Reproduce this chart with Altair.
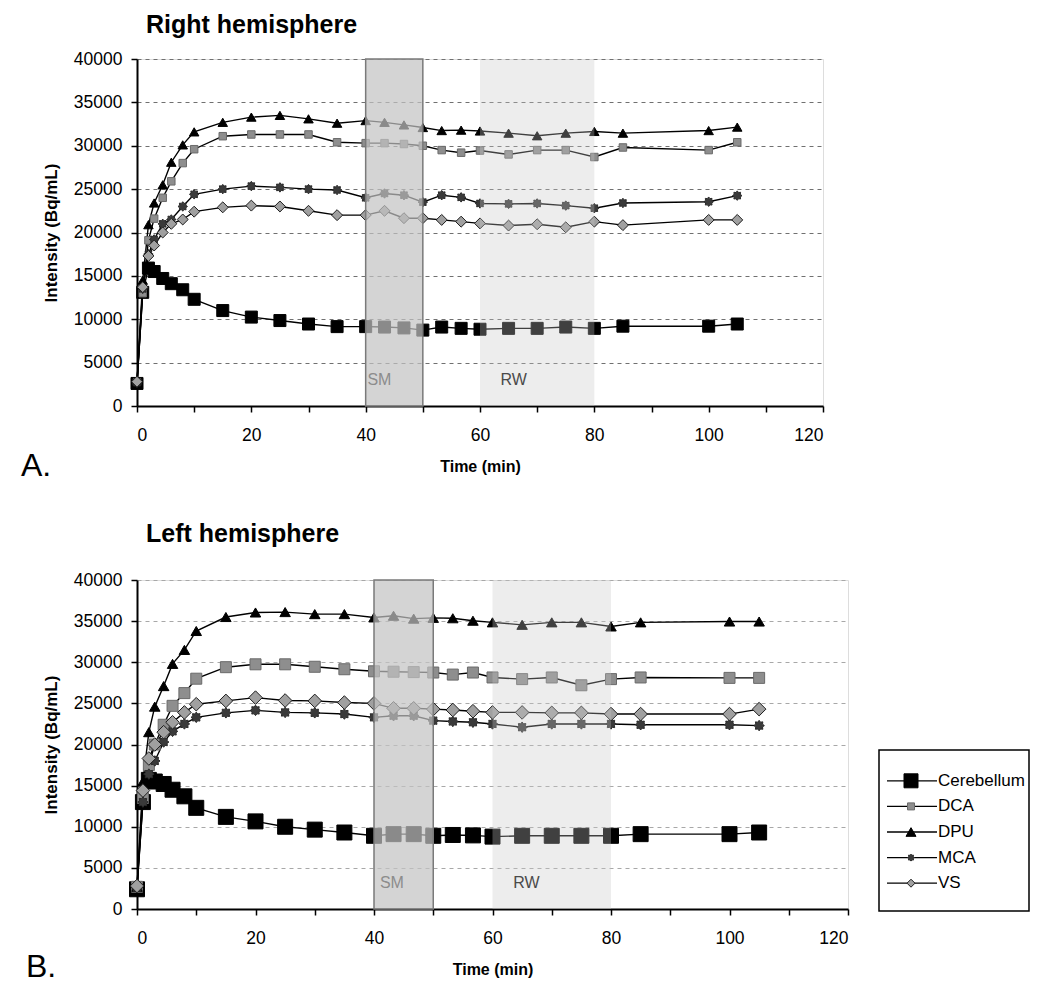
import math
import altair as alt
import pandas as pd

# ---------------- data ----------------
TIME = [0, 1, 2, 3, 4.5, 6, 8, 10, 15, 20, 25, 30, 35, 40, 43.3, 46.7, 50,
        53.3, 56.7, 60, 65, 70, 75, 80, 85, 100, 105]
SERIES = ["Cerebellum", "DCA", "DPU", "MCA", "VS"]
LEGEND_LABELS = ["Cerebellum", "DCA", "DPU", "MCA", "VS"]

# Right hemisphere (panel A)
R_CEREBELLUM = [2600, 13100, 15900, 15500, 14700, 14100, 13400, 12300, 11000, 10250, 9850, 9450, 9150, 9150,
                9100, 9000, 8750, 9100, 8950, 8850, 8950, 8950, 9100, 8950, 9200, 9200, 9450]
R_DCA = [2700, 13000, 19100, 21600, 24000, 25900, 28000, 29600, 31100, 31300, 31300, 31300, 30400, 30300,
         30300, 30200, 30000, 29500, 29200, 29450, 29000, 29500, 29500, 28700, 29800, 29500, 30400]
R_DPU = [2700, 14500, 20900, 23400, 25500, 28100, 30100, 31600, 32700, 33300, 33500, 33100, 32600, 32900,
         32700, 32400, 32100, 31750, 31800, 31700, 31450, 31150, 31450, 31650, 31450, 31750, 32150]
R_MCA = [2700, 13500, 17500, 19200, 21000, 21500, 23000, 24400, 25000, 25350, 25200, 25000, 24900, 24000,
         24500, 24300, 23500, 24300, 24050, 23350, 23300, 23350, 23100, 22800, 23400, 23550, 24250]
R_VS = [2800, 13700, 17300, 18500, 20000, 21000, 21500, 22400, 22900, 23100, 23000, 22500, 22000, 22000,
        22500, 21650, 21650, 21450, 21250, 21050, 20800, 20950, 20600, 21250, 20850, 21450, 21450]

# Left hemisphere (panel B)
L_CEREBELLUM = [2400, 13000, 15700, 15500, 15200, 14500, 13700, 12300, 11200, 10650, 10000, 9650, 9300, 8900,
                9100, 9100, 8900, 9000, 8950, 8800, 8900, 8900, 8900, 8900, 9100, 9100, 9300]
L_DCA = [2700, 13500, 17500, 20000, 22400, 24700, 26250, 28000, 29400, 29750, 29750, 29450, 29150, 28900,
         28850, 28800, 28750, 28500, 28750, 28150, 27950, 28150, 27200, 27950, 28150, 28100, 28100]
L_DPU = [2700, 15500, 21500, 24600, 27100, 29800, 31500, 33800, 35500, 36050, 36100, 35850, 35850, 35450,
         35650, 35300, 35400, 35350, 35050, 34850, 34550, 34850, 34850, 34350, 34850, 34950, 34950]
L_MCA = [2600, 13000, 16400, 18000, 20300, 21600, 22500, 23300, 23850, 24150, 23900, 23850, 23700, 23300,
         23500, 23500, 22900, 22800, 22700, 22500, 22100, 22500, 22500, 22500, 22400, 22400, 22300]
L_VS = [2800, 14400, 18300, 20000, 21500, 22700, 23900, 24900, 25300, 25700, 25350, 25300, 25100, 25000,
        24400, 24400, 24300, 24200, 24050, 23900, 23900, 23850, 23850, 23700, 23700, 23700, 24300]

# shaded periods
REGION_NAMES = ["SM", "RW"]
REGION_START = [40, 60]
REGION_END = [50, 80]
R_LABEL_X = [40.3, 63.6]
R_LABEL_Y = [3000, 3000]
L_LABEL_X = [41.0, 63.5]
L_LABEL_Y = [3200, 3200]

X_TICKS = list(range(0, 121, 10))
Y_TICKS = list(range(0, 40001, 5000))

# ---------------- styling ----------------
FONT = "Liberation Sans"
_pts = []
for k in range(16):
    a = -math.pi / 2 + k * math.pi / 8
    r = 1.0 if k % 2 == 0 else 0.7
    _pts.append(f"{r * math.cos(a):.3f},{r * math.sin(a):.3f}")
STAR = "M" + " L".join(_pts) + " Z"

SHAPES = ["square", "square", "triangle-up", STAR, "diamond"]
FILLS = ["#000000", "#8e8e8e", "#000000", "#3a3a3a", "#a0a0a0"]
STROKES = ["#000000", "#6a6a6a", "#000000", "#2a2a2a", "#1e1e1e"]
LEGEND_SIZES = [196, 49, 100, 49, 64]


def long_df(series_values):
    rows = []
    for name, vals in zip(SERIES, series_values):
        for t, v in zip(TIME, vals):
            rows.append({"series": name, "time": t, "value": v})
    return pd.DataFrame(rows)


def panel(df, title, width, height, grid_color, sizes, label_x, label_y,
          letter, letter_pos, title_offset, legend=False):
    xs = alt.Scale(domain=[0, 120], nice=False)
    ys = alt.Scale(domain=[0, 40000], nice=False)
    x_axis = alt.Axis(values=X_TICKS, labelExpr="datum.value % 20 == 0 ? datum.label : ''",
                      grid=False, tickSize=6, tickColor="black", tickWidth=1.5,
                      domainColor="black", domainWidth=2, labelFontSize=17.5, labelColor="black",
                      labelFont=FONT, labelPadding=14, title="Time (min)", titleFontSize=16,
                      titleFont=FONT, titleFontWeight="bold", titleColor="black", titlePadding=15)
    y_axis = alt.Axis(values=Y_TICKS, format="d", grid=True, gridColor=grid_color,
                      gridDash=[4, 4], gridWidth=1, tickSize=6, tickColor="black", tickWidth=1.5,
                      domainColor="black", domainWidth=2, labelFontSize=17.5, labelColor="black",
                      labelFont=FONT, labelPadding=9, title="Intensity (Bq/mL)", titleFontSize=17,
                      titleFont=FONT, titleFontWeight="bold", titleColor="black", titlePadding=13)

    base = alt.Chart(df)
    layers = [base.mark_line(color="black", strokeWidth=1.4).encode(
        x=alt.X("time:Q", scale=xs, axis=x_axis),
        y=alt.Y("value:Q", scale=ys, axis=y_axis),
        detail="series:N",
    )]
    for name, shp, fil, stk, sz in zip(SERIES, SHAPES, FILLS, STROKES, sizes):
        layers.append(base.transform_filter(alt.datum.series == name).mark_point(
            shape=shp, filled=True, fill=fil, stroke=stk, strokeWidth=1, size=sz, opacity=1).encode(
            x=alt.X("time:Q", scale=xs), y=alt.Y("value:Q", scale=ys)))

    reg = pd.DataFrame({"name": REGION_NAMES, "start": REGION_START, "end": REGION_END,
                        "lo": [0, 0], "hi": [40000, 40000],
                        "lx": label_x, "ly": label_y})
    rb = alt.Chart(reg)
    layers.append(rb.transform_filter("datum.name == 'SM'").mark_rect(
        fill="#c2c2c2", fillOpacity=0.71, stroke="#7a7a7a", strokeWidth=1.5).encode(
        x=alt.X("start:Q", scale=xs), x2="end:Q", y=alt.Y("lo:Q", scale=ys), y2="hi:Q"))
    layers.append(rb.transform_filter("datum.name == 'RW'").mark_rect(
        fill="#c8c8c8", fillOpacity=0.32, strokeWidth=0).encode(
        x=alt.X("start:Q", scale=xs), x2="end:Q", y=alt.Y("lo:Q", scale=ys), y2="hi:Q"))
    layers.append(rb.mark_text(align="left", baseline="middle", fontSize=16, font=FONT).encode(
        x=alt.X("lx:Q", scale=xs), y=alt.Y("ly:Q", scale=ys), text="name:N",
        color=alt.Color("name:N", scale=alt.Scale(domain=REGION_NAMES, range=["#8c8c8c", "#4a4a4a"]),
                        legend=None)))
    layers.append(alt.Chart(pd.DataFrame({"t": [letter]})).mark_text(
        align="left", baseline="middle", fontSize=32, font=FONT, color="black").encode(
        x=alt.value(letter_pos[0]), y=alt.value(letter_pos[1]), text="t:N"))

    data_group = alt.layer(*layers)

    ttl = alt.TitleParams(title, anchor="start", frame="group", fontSize=25, fontWeight="bold",
                          font=FONT, color="black", dx=9, offset=title_offset)
    if not legend:
        return data_group.properties(width=width, height=height, title=ttl)

    ldf = pd.DataFrame({"series": SERIES, "label": LEGEND_LABELS})
    ly = alt.Scale(domain=SERIES, range=[188, 316])
    lb = alt.Chart(ldf)
    leg_layers = [
        alt.Chart(pd.DataFrame({"a": [0]})).mark_rect(
            fill="white", stroke="black", strokeWidth=1.5).encode(
            x=alt.value(742), x2=alt.value(892), y=alt.value(170), y2=alt.value(331)),
        lb.mark_rule(color="black", strokeWidth=1.3).encode(
            x=alt.value(750), x2=alt.value(800), y=alt.Y("series:N", scale=ly, axis=None)),
    ]
    for name, shp, fil, stk, sz in zip(SERIES, SHAPES, FILLS, STROKES, LEGEND_SIZES):
        leg_layers.append(lb.transform_filter(alt.datum.series == name).mark_point(
            shape=shp, filled=True, fill=fil, stroke=stk, strokeWidth=1, size=sz, opacity=1).encode(
            x=alt.value(774), y=alt.Y("series:N", scale=ly, axis=None)))
    leg_layers.append(lb.mark_text(align="left", baseline="middle", fontSize=17, font=FONT,
                                   color="black").encode(
        x=alt.value(801), y=alt.Y("series:N", scale=ly, axis=None), text="label:N"))
    legend_group = alt.layer(*leg_layers)
    return alt.layer(data_group, legend_group).resolve_scale(y="independent").properties(
        width=width, height=height, title=ttl)


top = panel(long_df([R_CEREBELLUM, R_DCA, R_DPU, R_MCA, R_VS]), "Right hemisphere",
            686, 347, "#707070", [144, 56, 90, 90, 120], R_LABEL_X, R_LABEL_Y,
            "A.", (-116, 407), 12)
bottom = panel(long_df([L_CEREBELLUM, L_DCA, L_DPU, L_MCA, L_VS]), "Left hemisphere",
               711, 329, "#a8a8a8", [225, 121, 110, 110, 185], L_LABEL_X, L_LABEL_Y,
               "B.", (-111, 387), 24, legend=True)

chart = alt.vconcat(top, bottom, spacing=38).properties(
    padding={"left": 12, "top": 4, "right": 5, "bottom": 5}
).configure_view(stroke="#808080", strokeWidth=1.5).configure(font=FONT)

chart.save("out.html", embed_options={"renderer": "svg", "actions": False})
